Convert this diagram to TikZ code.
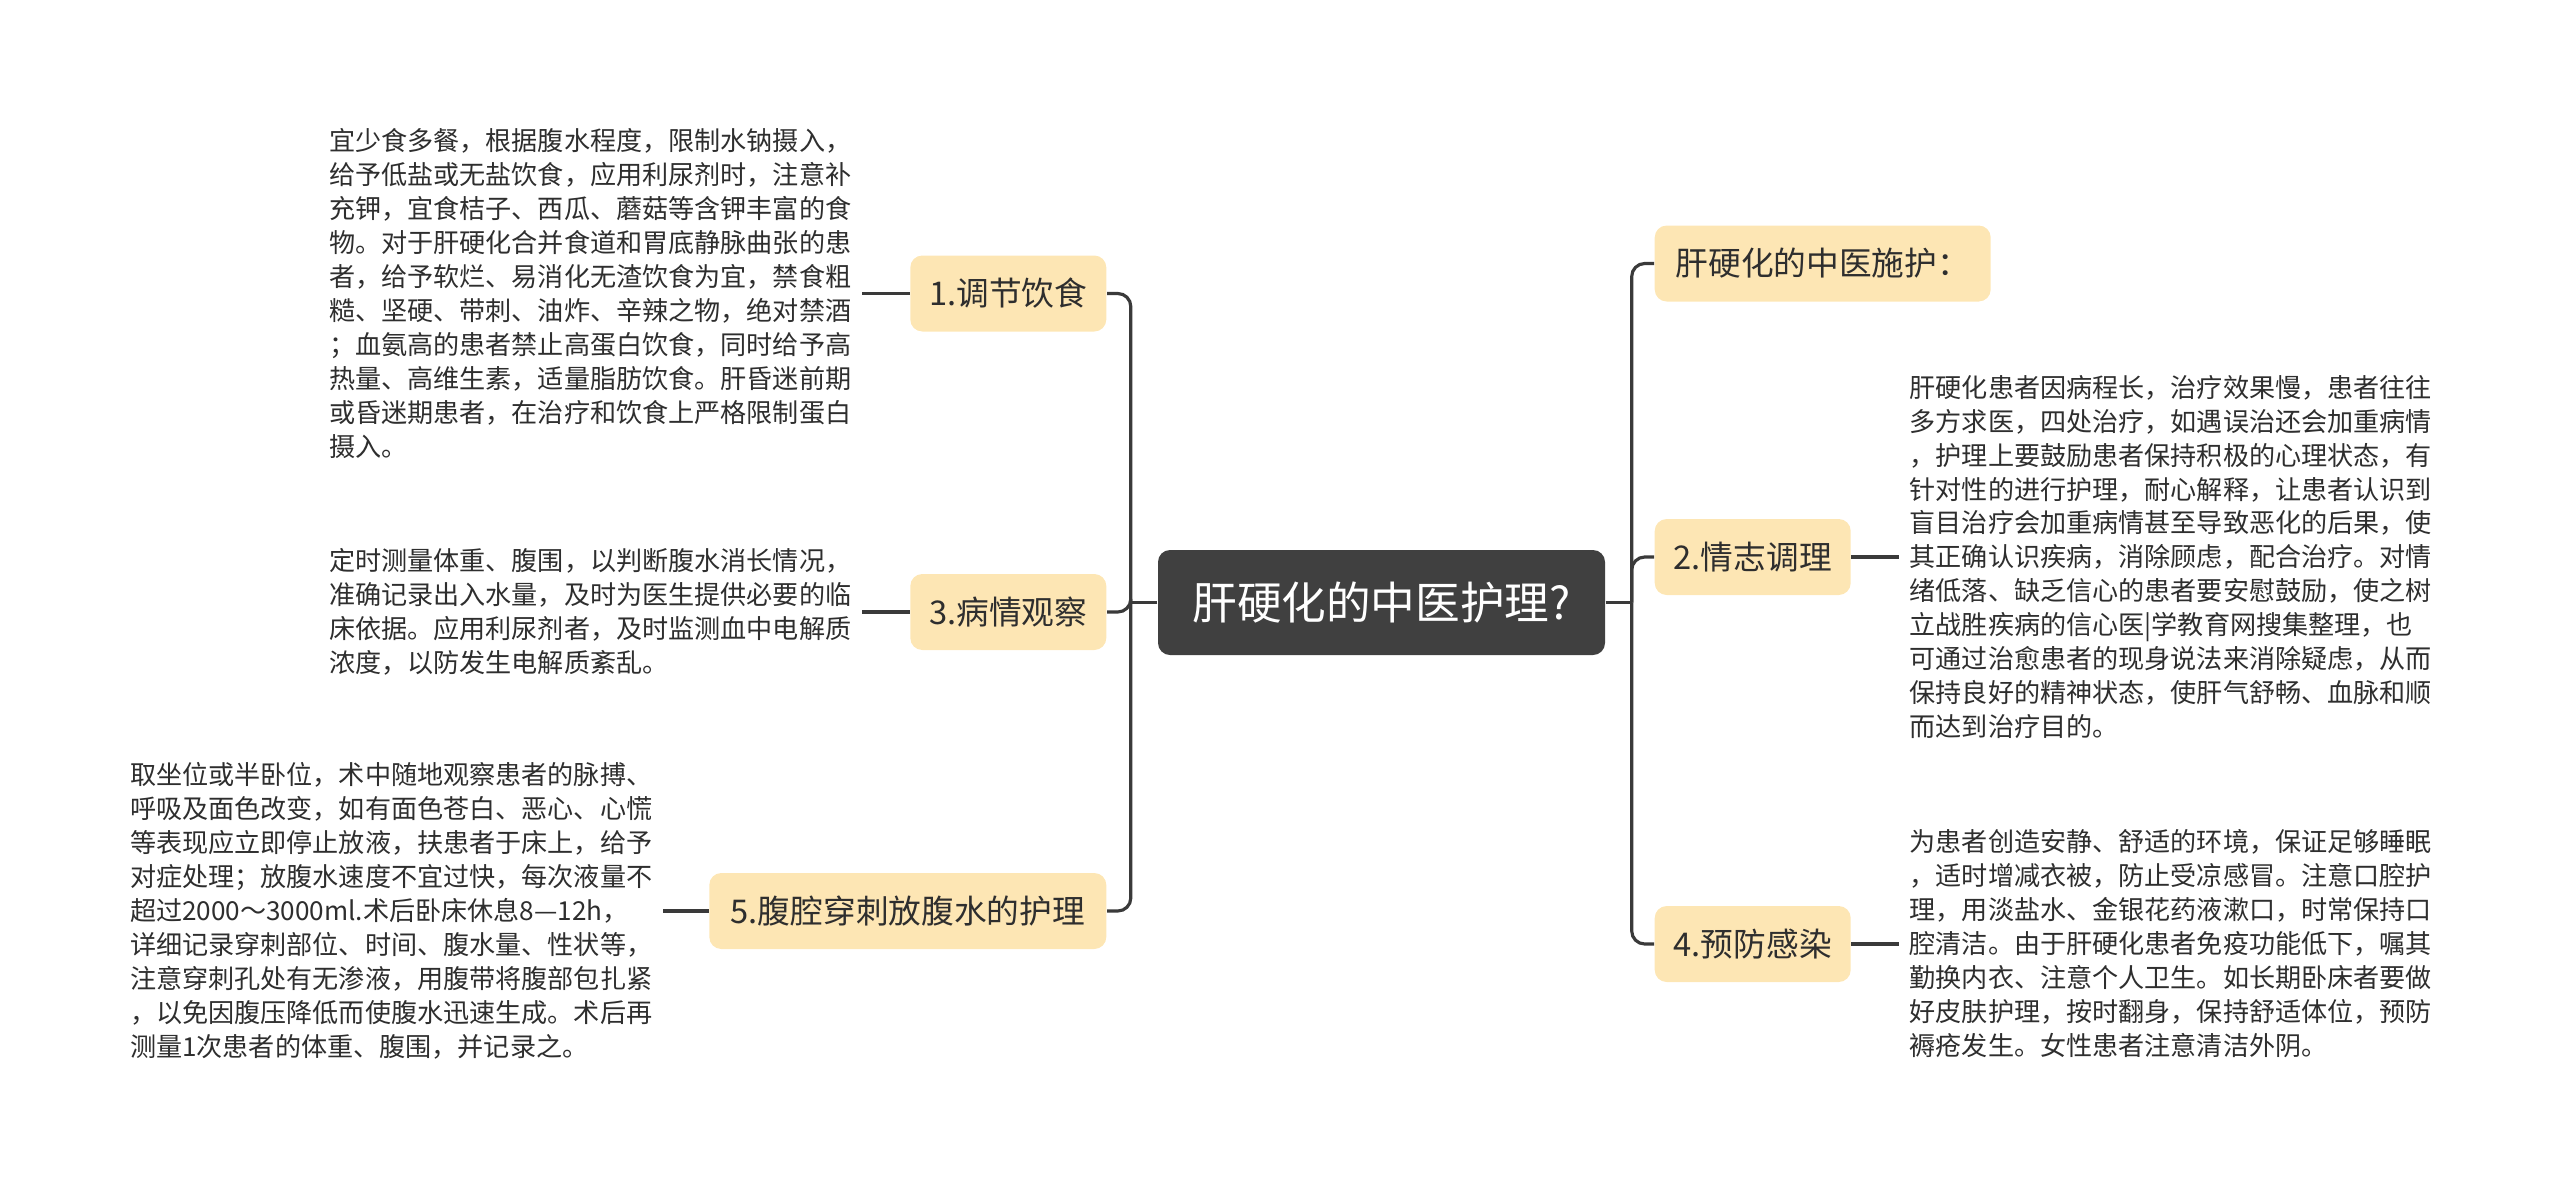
\documentclass[tikz,border=0pt]{standalone}
\usepackage{fontspec}
\setmainfont{Noto Sans CJK SC}
\usetikzlibrary{calc}
\definecolor{rootfill}{HTML}{404040}
\definecolor{kidfill}{HTML}{FDE6B4}
\definecolor{linkcol}{HTML}{3A3A3A}
\definecolor{txt}{HTML}{2E2E2E}

\begin{document}
\begin{tikzpicture}[
	root/.style={fill=rootfill,text=white,rounded corners=0.12cm,minimum width=4.47cm,minimum height=1.05cm,font=\fontsize{12.7}{15}\selectfont},
	kid/.style={fill=kidfill,text=txt,rounded corners=0.12cm,minimum height=0.76cm,font=\fontsize{9.3}{11}\selectfont},
	leaf/.style={text=txt,align=left,inner xsep=0.1cm,inner ysep=0pt,font=\fontsize{7.43}{9.67}\selectfont},
	link/.style={draw=linkcol,line width=0.9pt,rounded corners=0.13cm}]
	\useasboundingbox (0,0) rectangle (25.6,-11.89);

	\node[root] (c) at (13.815,-6.025) {肝硬化的中医护理?};

	\node[kid,anchor=east,minimum width=1.96cm] (n1) at (11.07,-2.935) {1.调节饮食};
	\node[kid,anchor=east,minimum width=1.96cm] (n3) at (11.07,-6.12) {3.病情观察};
	\node[kid,anchor=east,minimum width=3.97cm] (n5) at (11.07,-9.11) {5.腹腔穿刺放腹水的护理};
	\node[kid,anchor=west,minimum width=3.36cm] (h) at (16.54,-2.635) {肝硬化的中医施护：};
	\node[kid,anchor=west,minimum width=1.96cm] (n2) at (16.54,-5.57) {2.情志调理};
	\node[kid,anchor=west,minimum width=1.96cm] (n4) at (16.54,-9.44) {4.预防感染};

	\node[leaf,anchor=east] (l1) at (8.62,-2.935) {宜少食多餐，根据腹水程度，限制水钠摄入，\\给予低盐或无盐饮食，应用利尿剂时，注意补\\充钾，宜食桔子、西瓜、蘑菇等含钾丰富的食\\物。对于肝硬化合并食道和胃底静脉曲张的患\\者，给予软烂、易消化无渣饮食为宜，禁食粗\\糙、坚硬、带刺、油炸、辛辣之物，绝对禁酒\\；血氨高的患者禁止高蛋白饮食，同时给予高\\热量、高维生素，适量脂肪饮食。肝昏迷前期\\或昏迷期患者，在治疗和饮食上严格限制蛋白\\摄入。};
	\node[leaf,anchor=east] (l3) at (8.62,-6.12) {定时测量体重、腹围，以判断腹水消长情况，\\准确记录出入水量，及时为医生提供必要的临\\床依据。应用利尿剂者，及时监测血中电解质\\浓度，以防发生电解质紊乱。};
	\node[leaf,anchor=east] (l5) at (6.63,-9.11) {取坐位或半卧位，术中随地观察患者的脉搏、\\呼吸及面色改变，如有面色苍白、恶心、心慌\\等表现应立即停止放液，扶患者于床上，给予\\对症处理；放腹水速度不宜过快，每次液量不\\超过2000～3000ml.术后卧床休息8—12h，\\详细记录穿刺部位、时间、腹水量、性状等，\\注意穿刺孔处有无渗液，用腹带将腹部包扎紧\\，以免因腹压降低而使腹水迅速生成。术后再\\测量1次患者的体重、腹围，并记录之。};
	\node[leaf,anchor=west] (l2) at (18.99,-5.57) {肝硬化患者因病程长，治疗效果慢，患者往往\\多方求医，四处治疗，如遇误治还会加重病情\\，护理上要鼓励患者保持积极的心理状态，有\\针对性的进行护理，耐心解释，让患者认识到\\盲目治疗会加重病情甚至导致恶化的后果，使\\其正确认识疾病，消除顾虑，配合治疗。对情\\绪低落、缺乏信心的患者要安慰鼓励，使之树\\立战胜疾病的信心医|学教育网搜集整理，也\\可通过治愈患者的现身说法来消除疑虑，从而\\保持良好的精神状态，使肝气舒畅、血脉和顺\\而达到治疗目的。};
	\node[leaf,anchor=west] (l4) at (18.99,-9.44) {为患者创造安静、舒适的环境，保证足够睡眠\\，适时增减衣被，防止受凉感冒。注意口腔护\\理，用淡盐水、金银花药液漱口，时常保持口\\腔清洁。由于肝硬化患者免疫功能低下，嘱其\\勤换内衣、注意个人卫生。如长期卧床者要做\\好皮肤护理，按时翻身，保持舒适体位，预防\\褥疮发生。女性患者注意清洁外阴。};

	\coordinate (lt) at ($(c.west)+(-0.265,0)$);
	\coordinate (rt) at ($(c.east)+(0.26,0)$);
	\draw[link] (c.west) -- (lt);
	\draw[link] (c.east) -- (rt);
	\foreach \kid in {n1,n3,n5}
		\draw[link] (lt) |- (\kid.east);
	\foreach \kid in {h,n2,n4}
		\draw[link] (rt) |- (\kid.west);
	\foreach \from/\to in {l1/n1, l3/n3, l5/n5, n2/l2, n4/l4}
		\draw[link] (\from.east) -- (\to.west);
\end{tikzpicture}
\end{document}
